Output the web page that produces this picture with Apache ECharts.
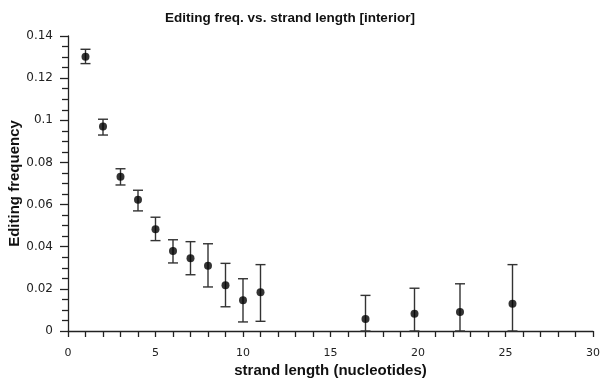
<!DOCTYPE html>
<html>
<head>
<meta charset="utf-8">
<script src="https://cdn.jsdelivr.net/npm/echarts@6/dist/echarts.min.js"></script>
<style>
  html, body { margin: 0; padding: 0; background: #fff; }
  #chart { width: 600px; height: 383px; }
</style>
</head>
<body>
<div id="chart"></div>
<script>
// strand length (nucleotides)
const strandLen = [1, 2, 3, 4, 5, 6, 7, 8, 9, 10, 11, 17, 19.8, 22.4, 25.4];
// editing frequency (mean)
const editFreq = [0.1301, 0.097, 0.0732, 0.0623, 0.0483, 0.038, 0.0345, 0.031,
  0.0217, 0.0146, 0.0184, 0.0057, 0.0082, 0.009, 0.0129];
// error bar limits
const errHigh = [0.1337, 0.1005, 0.077, 0.0668, 0.054, 0.0433, 0.0424, 0.0414,
  0.0321, 0.0248, 0.0315, 0.0169, 0.0203, 0.0224, 0.0315];
const errLow = [0.1269, 0.093, 0.0693, 0.057, 0.0429, 0.0323, 0.0267, 0.0209,
  0.0115, 0.0043, 0.0046, 0, 0, 0, 0];

const tickFont = { fontFamily: "DejaVu Sans", color: "#222" };

const myChart = echarts.init(document.getElementById("chart"));
myChart.setOption({
  animation: false,
  title: {
    text: "Editing freq. vs. strand length [interior]",
    left: 285,
    textAlign: "center",
    top: 6,
    textStyle: { fontFamily: "Liberation Sans", fontSize: 13.5, fontWeight: "bold", color: "#111" },
  },
  grid: { left: 68, right: 7, top: 36, bottom: 52, outerBoundsMode: "none", containLabel: false },
  xAxis: {
    type: "value",
    min: 0,
    max: 30,
    interval: 5,
    offset: 2,
    name: "strand length (nucleotides)",
    nameLocation: "middle",
    nameGap: 30,
    nameMoveOverlap: false,
    nameTextStyle: { fontFamily: "Liberation Sans", fontSize: 15, fontWeight: "bold", color: "#111" },
    axisLine: { lineStyle: { color: "#222", width: 1.3 } },
    axisTick: { length: 6, lineStyle: { color: "#222", width: 1.3 } },
    minorTick: { show: true, splitNumber: 5, length: 6, lineStyle: { color: "#222", width: 1.3 } },
    axisLabel: Object.assign({ margin: 15, fontSize: 11 }, tickFont),
    splitLine: { show: false },
  },
  yAxis: {
    type: "value",
    min: 0,
    max: 0.14,
    interval: 0.02,
    offset: 2,
    name: "Editing frequency",
    nameLocation: "middle",
    nameGap: 44,
    nameMoveOverlap: false,
    nameTextStyle: { fontFamily: "Liberation Sans", fontSize: 15, fontWeight: "bold", color: "#111" },
    axisLine: { show: true, lineStyle: { color: "#222", width: 1.3 } },
    axisTick: { show: true, length: 8, lineStyle: { color: "#222", width: 1.3 } },
    minorTick: { show: true, splitNumber: 4, length: 6, lineStyle: { color: "#222", width: 1.3 } },
    axisLabel: Object.assign({ margin: 13, fontSize: 12 }, tickFont),
    splitLine: { show: false },
  },
  series: [
    {
      type: "custom",
      data: strandLen.map((x, i) => [x, errLow[i], errHigh[i]]),
      renderItem: function (params, api) {
        const lo = api.coord([api.value(0), api.value(1)]);
        const hi = api.coord([api.value(0), api.value(2)]);
        const w = 5;
        const style = { stroke: "#333", lineWidth: 1.4 };
        return {
          type: "group",
          children: [
            { type: "line", shape: { x1: hi[0], y1: hi[1], x2: lo[0], y2: lo[1] }, style: style },
            { type: "line", shape: { x1: hi[0] - w, y1: hi[1], x2: hi[0] + w, y2: hi[1] }, style: style },
            { type: "line", shape: { x1: lo[0] - w, y1: lo[1], x2: lo[0] + w, y2: lo[1] }, style: style },
          ],
        };
      },
      z: 1,
    },
    {
      type: "scatter",
      data: strandLen.map((x, i) => [x, editFreq[i]]),
      symbol: "circle",
      symbolSize: 8,
      itemStyle: { color: "#000" },
      z: 2,
    },
  ],
});
</script>
</body>
</html>
